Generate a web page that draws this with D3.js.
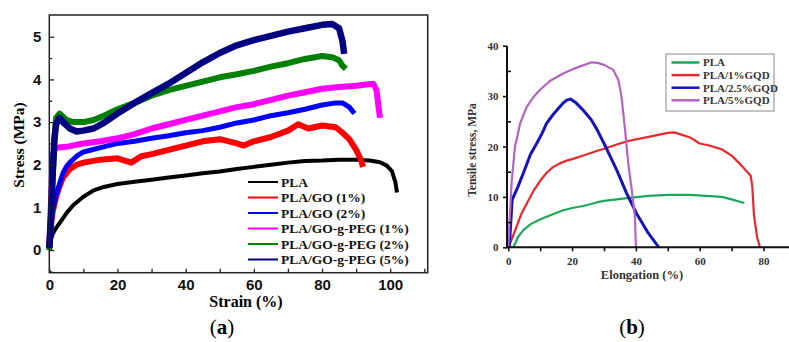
<!DOCTYPE html>
<html>
<head>
<meta charset="utf-8">
<script src="https://cdn.jsdelivr.net/npm/d3@7"></script>
<style>
  html, body { margin: 0; padding: 0; background: #fff; }
  svg { display: block; }
  .sans { font-family: "Liberation Sans", Arial, sans-serif; font-weight: bold; }
  .serif { font-family: "Liberation Serif", "Times New Roman", serif; font-weight: bold; }
</style>
</head>
<body>
<div id="chart"></div>
<script>
// ---- panel (a): stress-strain, PLA / GO composites ----
const aNames = ['PLA', 'PLA/GO (1%)', 'PLA/GO (2%)', 'PLA/GO-g-PEG (1%)', 'PLA/GO-g-PEG (2%)', 'PLA/GO-g-PEG (5%)'];
const aColors = ['#000000', '#ff0000', '#0000ff', '#ff00ff', '#008000', '#000080'];
const aXTicks = [0, 20, 40, 60, 80, 100];
const aYTicks = [0, 1, 2, 3, 4, 5];

// [strain %, stress MPa]
const aPLA = [[0,0.05],[0.5,0.25],[1,0.38],[2,0.52],[3,0.63],[5,0.86],[7,1.05],[10,1.25],[13,1.4],[16,1.48],[20,1.55],[25,1.6],[30,1.65],[35,1.7],[40,1.75],[45,1.8],[50,1.84],[55,1.9],[60,1.95],[65,2.0],[70,2.05],[75,2.09],[80,2.1],[85,2.12],[90,2.12],[94,2.1],[97,2.06],[99,1.98],[100.5,1.85],[101.5,1.6],[102,1.35]];
const aGO1 = [[0,0.1],[0.5,0.6],[1,0.9],[2,1.25],[3,1.5],[4,1.7],[6,1.9],[8,2.0],[10,2.05],[15,2.12],[20,2.15],[24,2.05],[27,2.2],[30,2.25],[35,2.35],[40,2.45],[45,2.55],[50,2.6],[55,2.5],[57,2.45],[60,2.55],[65,2.65],[70,2.8],[73,2.95],[76,2.85],[80,2.92],[84,2.88],[86,2.75],[88,2.6],[90,2.35],[91.5,2.1],[92,1.95]];
const aGO2 = [[0,0.1],[0.5,0.6],[1,0.95],[2,1.3],[3,1.55],[4,1.8],[5,1.95],[6,2.05],[8,2.2],[10,2.3],[15,2.4],[20,2.5],[25,2.55],[30,2.62],[35,2.68],[40,2.75],[45,2.8],[50,2.88],[55,2.98],[60,3.05],[65,3.15],[70,3.22],[75,3.3],[80,3.4],[84,3.45],[86,3.45],[88,3.35],[89.5,3.2]];
const aPEG1 = [[0,0.05],[1,2.2],[1.5,2.35],[2,2.4],[5,2.42],[10,2.5],[15,2.55],[20,2.62],[25,2.72],[30,2.85],[35,2.95],[40,3.05],[45,3.15],[50,3.25],[55,3.35],[60,3.42],[65,3.52],[70,3.62],[75,3.7],[80,3.78],[85,3.82],[90,3.85],[93,3.88],[95,3.9],[96,3.75],[96.5,3.4],[97,3.1]];
const aPEG2 = [[0,0],[0.5,0.8],[1,1.7],[1.5,2.6],[2,3.1],[3,3.2],[5,3.05],[7,3.0],[10,3.0],[13,3.05],[16,3.15],[20,3.3],[25,3.45],[30,3.62],[35,3.75],[40,3.85],[45,3.95],[50,4.05],[55,4.12],[60,4.2],[65,4.3],[70,4.38],[75,4.48],[80,4.55],[83,4.52],[85,4.45],[86,4.32],[87,4.25]];
const aPEG5 = [[0,0.05],[0.5,0.8],[1,1.8],[1.5,2.6],[2,2.95],[3,3.1],[4,3.0],[6,2.85],[8,2.78],[10,2.8],[13,2.85],[16,2.98],[20,3.2],[25,3.45],[30,3.68],[35,3.9],[40,4.15],[45,4.4],[50,4.62],[55,4.8],[60,4.92],[65,5.02],[70,5.12],[75,5.2],[80,5.28],[83,5.3],[85,5.2],[86,4.9],[86.5,4.6]];
const aSeries = [aPLA, aGO1, aGO2, aPEG1, aPEG2, aPEG5];

// ---- panel (b): tensile stress vs elongation, PLA / GQD ----
const bNames = ['PLA', 'PLA/1%GQD', 'PLA/2.5%GQD', 'PLA/5%GQD'];
const bColors = ['#1ea65c', '#e8282c', '#1414b8', '#b562c4'];
const bXTicks = [0, 10, 20, 30, 40, 50, 60, 70, 80];
const bXLabels = [0, 20, 40, 60, 80];
const bYTicks = [0, 10, 20, 30, 40];
const bYMinor = [5, 15, 25, 35];

// [elongation %, tensile stress MPa]
const bPLA = [[1.6,0],[3,2],[4.7,3.4],[7,4.6],[9.9,5.5],[13,6.3],[17,7.3],[20,7.8],[23.5,8.2],[27.7,8.9],[30,9.2],[34,9.5],[38,9.8],[44,10.2],[50,10.4],[57,10.4],[62,10.2],[67,10.0],[70,9.5],[74,8.8]];
const bGQD1 = [[0,0],[1,1.5],[2.6,4.1],[4,6.5],[5.8,8.7],[8,11.3],[10,13.2],[12,14.8],[14,15.9],[16,16.6],[18.3,17.2],[20,17.5],[23.5,18.2],[27.7,19.1],[30.8,19.7],[34,20.4],[37,21],[40,21.4],[44,21.9],[47,22.3],[50,22.7],[52,22.8],[54,22.4],[57,21.8],[60,20.6],[63,20.2],[67,19.4],[70,18.2],[73,16.3],[76,14.2],[76.5,12],[77,6.5],[78,2],[78.9,0]];
const bGQD25 = [[0.3,0],[1.2,9.4],[3,12],[4.7,14.7],[7,18.5],[8.9,20.6],[10.5,22.5],[12,24.6],[14,26.3],[15.2,27.2],[17,28.5],[18.3,29.2],[19.5,29.4],[21,28.8],[23.5,27.2],[26,25.3],[27.7,23.5],[30.8,19.6],[34,15.3],[37.1,10.7],[40.2,6.7],[43.9,2.8],[47.2,0]];
const bGQD5 = [[0,0],[0.3,4.1],[1.1,13.4],[2.1,20],[3,22.5],[3.7,24.6],[5.8,27.9],[8,29.9],[9.9,31.2],[13,33],[17.2,34.5],[20,35.3],[23,36],[26.1,36.7],[28,36.6],[30,36.2],[32.9,35.2],[34.5,33.2],[35.5,29.9],[36.6,23.3],[37.6,16.7],[38.7,11.4],[39.7,6.1],[40,0]];
const bSeries = [bPLA, bGQD1, bGQD25, bGQD5];

const svg = d3.select('#chart').append('svg').attr('width', 789).attr('height', 342);

// ================= panel (a) =================
const xA = d3.scaleLinear().domain([0, 111]).range([49.3, 427.7]);
const yA = d3.scaleLinear().domain([-0.53, 5.51]).range([272.7, 15]);
const gA = svg.append('g');

const lineA = d3.line().x(d => xA(d[0])).y(d => yA(d[1]));
const aWidths = [4, 6, 5, 6, 6, 6.5];
aSeries.forEach((s, i) => {
  gA.append('path')
    .datum(s)
    .attr('fill', 'none')
    .attr('stroke', aColors[i])
    .attr('stroke-width', aWidths[i])
    .attr('stroke-linejoin', 'round')
    .attr('d', lineA);
});

gA.append('rect')
  .attr('x', xA.range()[0]).attr('y', yA.range()[1])
  .attr('width', xA.range()[1] - xA.range()[0])
  .attr('height', yA.range()[0] - yA.range()[1])
  .attr('fill', 'none').attr('stroke', '#222').attr('stroke-width', 1.5);

const axA = gA.append('g')
  .attr('class', 'sans')
  .attr('transform', `translate(0,${yA.range()[0]})`)
  .call(d3.axisBottom(xA).tickValues(aXTicks).tickSize(-4).tickPadding(7).tickFormat(d3.format('d')));
gA.append('g')
  .attr('transform', `translate(0,${yA.range()[0]})`)
  .call(d3.axisBottom(xA).tickValues([10, 30, 50, 70, 90, 110]).tickSize(-4).tickFormat(''));
const ayA = gA.append('g')
  .attr('class', 'sans')
  .attr('transform', `translate(${xA.range()[0]},0)`)
  .call(d3.axisLeft(yA).tickValues(aYTicks).tickSize(-5).tickPadding(8).tickFormat(d3.format('d')));
gA.append('g')
  .attr('transform', `translate(${xA.range()[0]},0)`)
  .call(d3.axisLeft(yA).tickValues([-0.5, 0.5, 1.5, 2.5, 3.5, 4.5]).tickSize(-3).tickFormat(''));
gA.selectAll('.domain').remove();
gA.selectAll('.tick line').attr('stroke', '#222').attr('stroke-width', 1.3);
gA.selectAll('.tick text').attr('font-size', 15).attr('fill', '#111')
  .attr('font-family', '"Liberation Sans", Arial, sans-serif').attr('font-weight', 'bold');

gA.append('text')
  .attr('class', 'serif')
  .attr('x', 246).attr('y', 307)
  .attr('text-anchor', 'middle').attr('font-size', 16)
  .text('Strain (%)');
gA.append('text')
  .attr('class', 'serif')
  .attr('transform', 'translate(24,145) rotate(-90)')
  .attr('text-anchor', 'middle').attr('font-size', 15.5)
  .text('Stress (MPa)');

const legA = gA.append('g');
aNames.forEach((n, i) => {
  const y = 182 + i * 15.5;
  legA.append('line')
    .attr('x1', 248).attr('x2', 278).attr('y1', y).attr('y2', y)
    .attr('stroke', aColors[i]).attr('stroke-width', 2);
  legA.append('text')
    .attr('class', 'serif')
    .attr('x', 281).attr('y', y).attr('dy', '0.35em')
    .attr('font-size', 13.5).attr('fill', '#111')
    .text(n);
});

svg.append('text')
  .attr('x', 222).attr('y', 334)
  .attr('text-anchor', 'middle')
  .attr('font-family', '"Liberation Serif", "Times New Roman", serif')
  .attr('font-size', 21)
  .html('(<tspan font-weight="bold">a</tspan>)');

// ================= panel (b) =================
const xB = d3.scaleLinear().domain([0, 88]).range([508.3, 789]);
const yB = d3.scaleLinear().domain([0, 40]).range([247.3, 45.7]);
const gB = svg.append('g');

const lineB = d3.line().x(d => xB(d[0])).y(d => yB(d[1]));
const bWidths = [2.2, 2.2, 3, 2.2];
bSeries.forEach((s, i) => {
  gB.append('path')
    .datum(s)
    .attr('fill', 'none')
    .attr('stroke', bColors[i])
    .attr('stroke-width', bWidths[i])
    .attr('stroke-linejoin', 'round')
    .attr('d', lineB);
});

gB.append('g')
  .attr('transform', `translate(0,${yB.range()[0]})`)
  .call(d3.axisBottom(xB).tickValues(bXTicks).tickSize(4).tickPadding(6)
    .tickFormat(d => bXLabels.includes(d) ? d : ''));
gB.append('g')
  .attr('transform', `translate(507,0)`)
  .call(d3.axisLeft(yB).tickValues(bYTicks).tickSize(4).tickPadding(4.5));
gB.append('g')
  .attr('transform', `translate(507,0)`)
  .call(d3.axisLeft(yB).tickValues(bYMinor).tickSize(-4).tickFormat(''));
gB.selectAll('.domain').remove();
gB.append('line')
  .attr('x1', 507).attr('x2', 789).attr('y1', yB(0)).attr('y2', yB(0))
  .attr('stroke', '#111').attr('stroke-width', 2);
gB.append('line')
  .attr('x1', 507).attr('x2', 507).attr('y1', yB(0) + 1).attr('y2', yB(40))
  .attr('stroke', '#111').attr('stroke-width', 2);
gB.selectAll('.tick line').attr('stroke', '#111').attr('stroke-width', 1.6);
gB.selectAll('.tick text').attr('font-size', 11).attr('fill', '#333')
  .attr('font-family', '"Liberation Serif", "Times New Roman", serif').attr('font-weight', 'bold');

gB.append('text')
  .attr('class', 'serif')
  .attr('x', 642).attr('y', 279)
  .attr('text-anchor', 'middle').attr('font-size', 12.5).attr('fill', '#333')
  .text('Elongation (%)');
gB.append('text')
  .attr('class', 'serif')
  .attr('transform', 'translate(476,150) rotate(-90)')
  .attr('text-anchor', 'middle').attr('font-size', 11.5).attr('fill', '#333')
  .text('Tensile stress, MPa');

const legB = gB.append('g');
legB.append('rect')
  .attr('x', 666).attr('y', 54).attr('width', 108).attr('height', 57)
  .attr('fill', '#fff').attr('stroke', '#888').attr('stroke-width', 1);
bNames.forEach((n, i) => {
  const y = 62.5 + i * 12.6;
  legB.append('line')
    .attr('x1', 671.5).attr('x2', 699.5).attr('y1', y).attr('y2', y)
    .attr('stroke', bColors[i]).attr('stroke-width', 2.5);
  legB.append('text')
    .attr('class', 'serif')
    .attr('x', 703).attr('y', y).attr('dy', '0.35em')
    .attr('font-size', 11).attr('fill', '#333')
    .text(n);
});

svg.append('text')
  .attr('x', 632).attr('y', 334)
  .attr('text-anchor', 'middle')
  .attr('font-family', '"Liberation Serif", "Times New Roman", serif')
  .attr('font-size', 21)
  .html('(<tspan font-weight="bold">b</tspan>)');
</script>
</body>
</html>
